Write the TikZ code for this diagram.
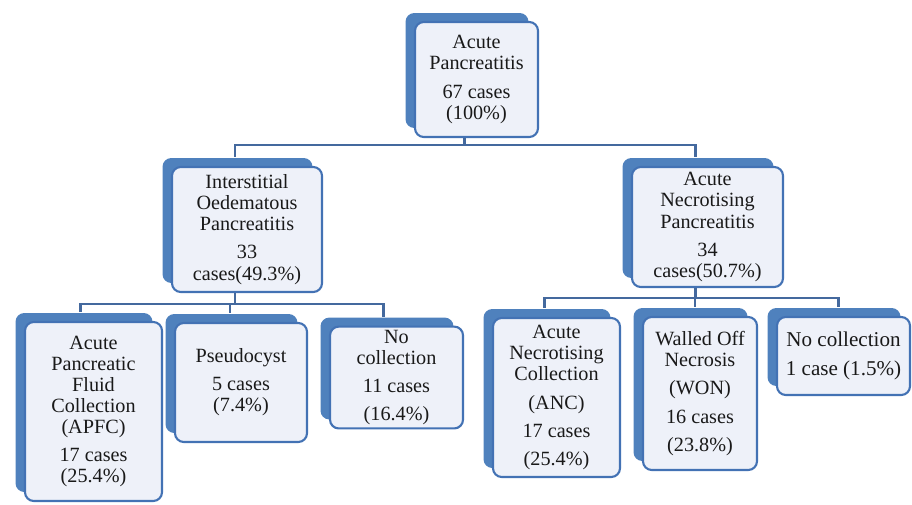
\documentclass[tikz,border=0pt]{standalone}
\usepackage{fontspec}
\setmainfont{Liberation Serif}
\newfontfamily\kasefont{Liberation Serif}
\usetikzlibrary{shadows}
\definecolor{sblue}{HTML}{4F81BD}
\definecolor{bblue}{HTML}{4372B4}
\definecolor{bfill}{HTML}{EEF1F9}
\definecolor{lblue}{HTML}{44699E}
\tikzset{kase/.style = {draw=bblue, line width=1.2pt, fill=bfill, rounded corners=5pt, align=center, text=black!90,
    font=\kasefont\fontsize{11.5}{12}\selectfont, inner sep=2pt,
    general shadow={fill=sblue, shadow xshift=-0.19cm, shadow yshift=0.18cm}}}
\tikzset{boxsize/.style 2 args = {minimum width=#1*0.02cm, minimum height=#2*0.02cm}}
\tikzset{link/.style = {draw=lblue, line width=1.6pt}}

\begin{document}
\begin{tikzpicture}[x=0.02cm, y=-0.02cm]
      \useasboundingbox (0, 0) rectangle (912, 504);

      \node [kase, boxsize={123}{115}] (top) at (476.5, 79.5) {Acute\\Pancreatitis\\[4pt]67 cases\\(100\%)};

      \node [kase, boxsize={150}{125}] (iop) at (247, 229.5) {Interstitial\\Oedematous\\Pancreatitis\\[4pt]33\\cases(49.3\%)};
      \node [kase, boxsize={151}{120}] (anp) at (707.5, 227) {Acute\\Necrotising\\Pancreatitis\\[4pt]34\\cases(50.7\%)};

      \node [kase, boxsize={137}{179}] (apfc) at (93.5, 411.5) {Acute\\Pancreatic\\Fluid\\Collection\\(APFC)\\[4pt]17 cases\\(25.4\%)};
      \node [kase, boxsize={132}{119}] (pseudo) at (241, 382.5) {Pseudocyst\\[4pt]5 cases\\(7.4\%)};
      \node [kase, boxsize={133}{101}] (nocolL) at (396.5, 377.5) {No\\collection\\[4pt]11 cases\\[4pt](16.4\%)};

      \node [kase, boxsize={127}{159}] (anc) at (556.5, 397.5) {Acute\\Necrotising\\Collection\\[4pt](ANC)\\[4pt]17 cases\\[4pt](25.4\%)};
      \node [kase, boxsize={114}{153}] (won) at (700, 393.5) {Walled Off\\Necrosis\\[4pt](WON)\\[4pt]16 cases\\[4pt](23.8\%)};
      \node [kase, boxsize={133}{78}, font=\kasefont\fontsize{12}{12.5}\selectfont] (nocolR) at (843.5, 356) {No collection\\[4pt]1 case (1.5\%)};

      \foreach \kid in {iop, anp} {
        \draw [link] ([xshift=-0.24cm]top.south) -- ++(0, 7) -| ([shift={(-12, -9)}]\kid.north);
      }
      \foreach \kid/\dx in {apfc/-13, pseudo/-11, nocolL/-13} {
        \draw [link] ([xshift=-0.24cm]iop.south) -- ++(0, 11) -| ([shift={(\dx, -9)}]\kid.north);
      }
      \foreach \kid/\dx in {anc/-12, won/-5, nocolR/-5} {
        \draw [link] ([xshift=-0.24cm]anp.south) -- ++(0, 10) -| ([shift={(\dx, -9)}]\kid.north);
      }
    \end{tikzpicture}
\end{document}
